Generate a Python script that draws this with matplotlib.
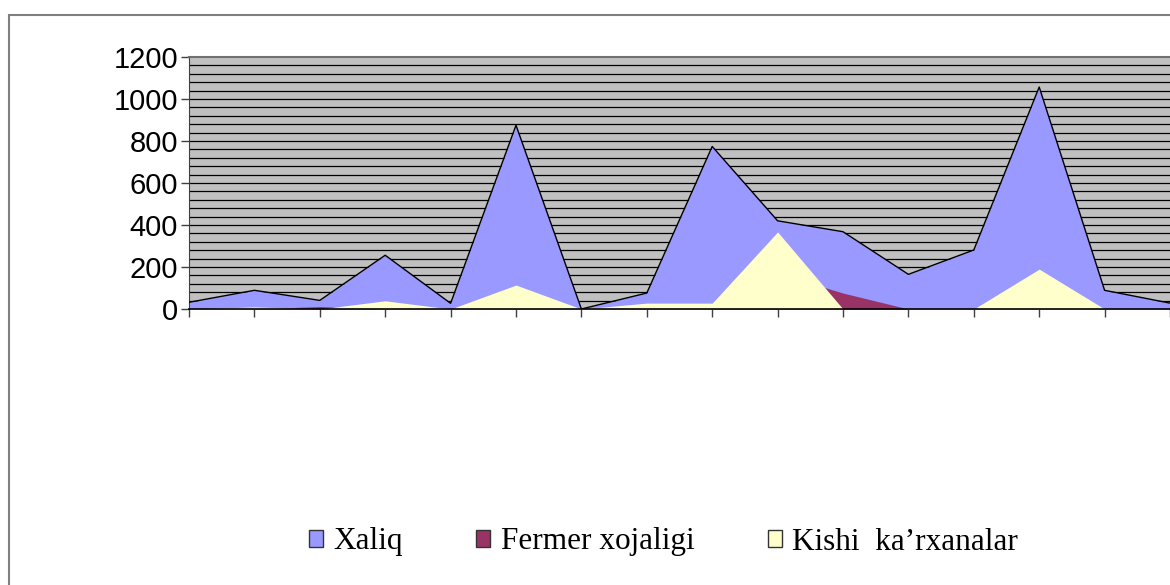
# Overlapping area chart: Xaliq / Fermer xojaligi / Kishi ka'rxanalar, Excel style.
import numpy as np
import matplotlib
matplotlib.use("Agg")
import matplotlib.pyplot as plt
from matplotlib.patches import Patch, Rectangle

points = list(range(16))
xaliq = [32, 89, 41, 256, 27, 875, 0, 76, 774, 420, 368, 165, 281, 1057, 89, 28]
fermer = [0, 0, 12, 0, 0, 0, 0, 0, 0, 170, 76, 0, 0, 0, 0, 0]
kishi = [0, 10, 0, 39, 0, 114, 0, 28, 28, 367, 0, 0, 0, 190, 0, 0]
labels = ["Xaliq", "Fermer xojaligi", "Kishi  ka\u2019rxanalar"]
colors = ["#9999FF", "#993366", "#FFFFCC"]

W, H = 1170, 585
fig = plt.figure(figsize=(W / 100, H / 100), dpi=100)

# outer chart border (runs off the right and bottom edges)
fig.patches.append(Rectangle((9 / W, -0.1), 1.2, 1 - 15 / H + 0.1,
                             transform=fig.transFigure, fill=False,
                             edgecolor="#808080", lw=1.5))

ax = fig.add_axes([189 / W, 1 - 309 / H, 981 / W, 252 / H])
ax.set_facecolor("#C0C0C0")

x = np.array(points)
ax.fill_between(x, 0, xaliq, color=colors[0], lw=0, zorder=2)
ax.plot(x, xaliq, color="black", lw=1.0, zorder=3)
ax.fill_between(x, 0, fermer, color=colors[1], lw=0, zorder=4)
ax.fill_between(x, 0, kishi, color=colors[2], lw=0, zorder=5)

for g in range(40, 1200, 40):
    ax.axhline(g, color="black", lw=0.9, zorder=1)

ax.set_xlim(0, 15)
ax.set_ylim(0, 1200)
ax.set_xticks(points)
ax.set_xticklabels([])
ax.set_yticks(range(0, 1201, 200))
ax.tick_params(axis="y", direction="out", length=6, width=1, color="#404040",
               pad=2, labelsize=21)
ax.tick_params(axis="x", direction="out", length=5.5, width=1, color="#404040")
for t in ax.get_yticklabels():
    t.set_fontfamily("Liberation Sans")

ax.spines["right"].set_visible(False)
ax.spines["top"].set_color("#707070")
ax.spines["top"].set_linewidth(1.5)
ax.spines["left"].set_color("#404040")
ax.spines["bottom"].set_color("black")
ax.spines["bottom"].set_linewidth(1.2)
ax.spines["bottom"].set_zorder(6)

handles = [Patch(facecolor=c, edgecolor="#333333", lw=1) for c in colors]
fig.legend(handles, labels, loc="center", bbox_to_anchor=(663.5 / W, 1 - 542 / H),
           ncol=3, frameon=False, prop={"family": "Liberation Serif", "size": 22.5},
           handlelength=0.45, handleheight=0.45, handletextpad=0.33,
           columnspacing=2.35, borderpad=0, borderaxespad=0)

fig.savefig("out.png", dpi=100)
